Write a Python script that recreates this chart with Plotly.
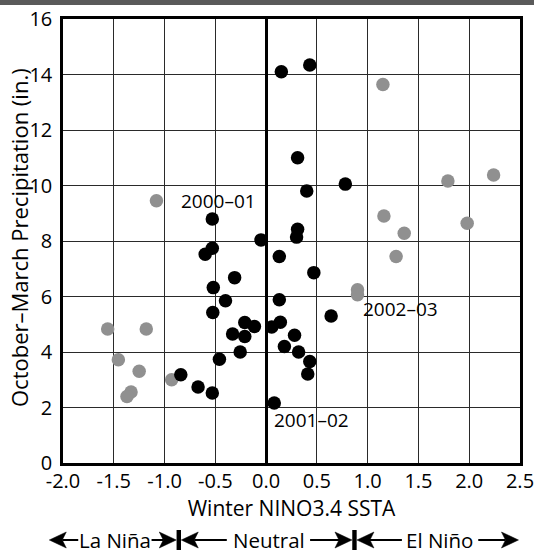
import plotly.graph_objects as go

# ---------------- data ----------------
neutral_x = [0.15, 0.43, 0.31, 0.78, 0.40, -0.53, 0.31, 0.30, -0.05, -0.53, -0.60, 0.13,
             0.47, -0.31, -0.52, -0.40, 0.13, -0.525, 0.64, -0.21, -0.115, 0.055, 0.14,
             -0.33, -0.21, 0.28, 0.18, -0.255, 0.32, -0.46, 0.43, 0.41, -0.84, -0.67, -0.53, 0.08]
neutral_y = [14.1, 14.34, 11.0, 10.05, 9.8, 8.79, 8.42, 8.14, 8.04, 7.74, 7.52, 7.44,
             6.86, 6.68, 6.32, 5.85, 5.88, 5.42, 5.3, 5.06, 4.92, 4.9, 5.07,
             4.65, 4.56, 4.6, 4.2, 4.0, 4.0, 3.74, 3.66, 3.21, 3.18, 2.74, 2.52, 2.16]

lanina_x = [-1.08, -1.56, -1.18, -1.455, -1.25, -0.93, -1.33, -1.37]
lanina_y = [9.45, 4.83, 4.83, 3.72, 3.31, 3.0, 2.56, 2.4]

elnino_x = [1.15, 1.79, 2.24, 1.16, 1.36, 1.98, 1.28, 0.90, 0.90]
elnino_y = [13.64, 10.16, 10.38, 8.9, 8.28, 8.64, 7.44, 6.24, 6.06]

x_ticks = [-2.0, -1.5, -1.0, -0.5, 0.0, 0.5, 1.0, 1.5, 2.0, 2.5]
x_tick_labels = ["-2.0", "-1.5", "-1.0", "-0.5", "0.0", "0.5", "1.0", "1.5", "2.0", "2.5"]
y_ticks = [0, 2, 4, 6, 8, 10, 12, 14, 16]
y_tick_labels = ["0", "2", "4", "6", "8", "10", "12", "14", "16"]

label_texts = ["2000\u201301", "2001\u201302", "2002\u201303"]
label_x = [-0.47, 0.45, 1.32]
label_y = [9.45, 1.56, 5.56]

phase_names = ["La Ni\u00f1a", "Neutral", "El Ni\u00f1o"]
phase_centers = [-1.49, 0.03, 1.71]
phase_bounds = [-0.86, 0.87]

X_RANGE = [-2.0, 2.5]
Y_RANGE = [0, 16]

FONT = "Open Sans"
W, H = 534, 554
ML, MR, MT, MB = 63, 14, 19, 91
PW = W - ML - MR
PH = H - MT - MB


def xp(x):
    return (x - X_RANGE[0]) / (X_RANGE[1] - X_RANGE[0])


def xp_px(px):
    return (px - ML) / PW


def yp_px(py):
    # pixel row (from top of figure) -> paper y
    return (H - MB - py) / PH


fig = go.Figure()
fig.add_trace(go.Scatter(x=lanina_x, y=lanina_y, mode="markers", name="La Niña",
                         marker=dict(color="#909090", size=13.5, line=dict(width=0))))
fig.add_trace(go.Scatter(x=elnino_x, y=elnino_y, mode="markers", name="El Niño",
                         marker=dict(color="#909090", size=13.5, line=dict(width=0))))
fig.add_trace(go.Scatter(x=neutral_x, y=neutral_y, mode="markers", name="Neutral",
                         marker=dict(color="#000000", size=13.5, line=dict(width=0))))

shapes = []
annotations = []

# top dark band
shapes.append(dict(type="rect", xref="paper", yref="paper", x0=-0.2, x1=1.1,
                   y0=yp_px(5), y1=yp_px(-5), fillcolor="#5a5a5a", line=dict(width=0), layer="above"))

# y-axis title
annotations.append(dict(x=xp_px(19), y=yp_px(238), xref="paper", yref="paper",
                        text="October\u2013March Precipitation (in.)", textangle=-90,
                        showarrow=False, font=dict(family=FONT, size=22, color="#000"),
                        xanchor="center", yanchor="middle"))

# point labels
for t, x, y in zip(label_texts, label_x, label_y):
    annotations.append(dict(x=x, y=y, xref="x", yref="y", text=t, showarrow=False,
                            font=dict(family=FONT, size=19, color="#000"),
                            xanchor="center", yanchor="middle"))

# phase row
ROW_PY = 540
row_y = yp_px(ROW_PY)
for name, c in zip(phase_names, phase_centers):
    annotations.append(dict(x=xp(c), y=yp_px(ROW_PY), xref="paper", yref="paper", text=name,
                            showarrow=False, font=dict(family=FONT, size=20.5, color="#000"),
                            xanchor="center", yanchor="middle"))

px_per_x = PW / (X_RANGE[1] - X_RANGE[0])


def arrow(tail_x, tip_x):
    d = 1 if tip_x > tail_x else -1
    L, h, notch = 17.0, 8.0, 4.0
    tip = xp(tip_x)
    Lp = L / PW
    notchp = notch / PW
    hp = h / PH
    back = tip - d * Lp
    inner = tip - d * (Lp - notchp)
    shapes.append(dict(type="line", xref="paper", yref="paper", x0=xp(tail_x), x1=inner,
                       y0=row_y, y1=row_y, line=dict(color="#000", width=2)))
    path = "M {:.5f},{:.5f} L {:.5f},{:.5f} L {:.5f},{:.5f} L {:.5f},{:.5f} Z".format(
        tip, row_y, back, row_y + hp, inner, row_y, back, row_y - hp)
    shapes.append(dict(type="path", xref="paper", yref="paper", path=path,
                       fillcolor="#000", line=dict(color="#000", width=0.5)))


gap = 2.5 / px_per_x
arrow(-1.85, -2.135)
arrow(-1.128, phase_bounds[0] - gap)
arrow(-0.387, phase_bounds[0] + gap)
arrow(0.433, phase_bounds[1] - gap)
arrow(1.337, phase_bounds[1] + gap)
arrow(2.089, 2.485)

for b in phase_bounds:
    shapes.append(dict(type="rect", xref="paper", yref="paper",
                       x0=xp(b) - 2.2 / PW, x1=xp(b) + 2.2 / PW,
                       y0=yp_px(ROW_PY + 10), y1=yp_px(ROW_PY - 10),
                       fillcolor="#000", line=dict(width=0)))

fig.update_layout(
    template="none",
    width=W, height=H,
    margin=dict(l=ML, r=MR, t=MT, b=MB, pad=0, autoexpand=False),
    paper_bgcolor="white", plot_bgcolor="white",
    showlegend=False,
    font=dict(family=FONT, color="#000"),
    shapes=shapes,
    annotations=annotations,
    xaxis=dict(range=X_RANGE, tickvals=x_ticks, ticktext=x_tick_labels,
               tickfont=dict(family=FONT, size=20, color="#000"),
               showgrid=True, gridcolor="#2a2a2a", gridwidth=1.4,
               zeroline=True, zerolinecolor="#000", zerolinewidth=2.5,
               showline=True, linecolor="#000", linewidth=2.5, mirror=True,
               ticks="", fixedrange=True, ticklabeloverflow="allow",
               ticklabelstandoff=-2,
               automargin=False,
               title=dict(text="Winter NINO3.4 SSTA", standoff=7,
                          font=dict(family=FONT, size=21, color="#000"))),
    yaxis=dict(range=Y_RANGE, tickvals=y_ticks, ticktext=y_tick_labels,
               tickfont=dict(family=FONT, size=20, color="#000"),
               showgrid=True, gridcolor="#2a2a2a", gridwidth=1.4,
               zeroline=False,
               showline=True, linecolor="#000", linewidth=2.5, mirror=True,
               ticks="outside", ticklen=4, tickcolor="rgba(0,0,0,0)", fixedrange=True,
               ticklabeloverflow="allow",
               automargin=False),
)

fig.write_html("out.html", config={"displayModeBar": False},
               post_script="document.body.style.margin='0';document.body.style.overflow='hidden';")
